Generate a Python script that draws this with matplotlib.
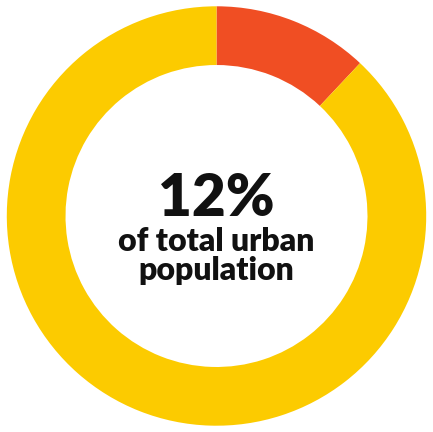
import matplotlib
matplotlib.use("Agg")
import matplotlib.pyplot as plt

# Donnees
labels = ["Part urbaine", "Reste"]
valeurs = [12, 88]
couleurs = ["#F04E23", "#FCCB00"]
titre = "12%"
sous_titre = "of total urban\npopulation"

fig = plt.figure(figsize=(4.33, 4.32), dpi=100)
ax = fig.add_axes([0.0, 0.0, 1.0, 1.0])

ax.pie(valeurs, colors=couleurs, startangle=90, counterclock=False,
       radius=1.0, wedgeprops=dict(width=0.28, edgecolor="none"))
ax.set_xlim(-1.03, 1.03)
ax.set_ylim(-1.03, 1.03)
ax.set_aspect("equal")
ax.axis("off")

ax.text(0, 0.085, titre, ha="center", va="center", fontsize=42,
        fontweight="heavy", family=["Lato", "DejaVu Sans"], color="#111111")
ax.text(0, -0.19, sous_titre, ha="center", va="center", fontsize=23,
        fontweight="heavy", family=["Lato", "DejaVu Sans"], color="#111111",
        linespacing=0.98)

fig.savefig("out.png", dpi=100)
